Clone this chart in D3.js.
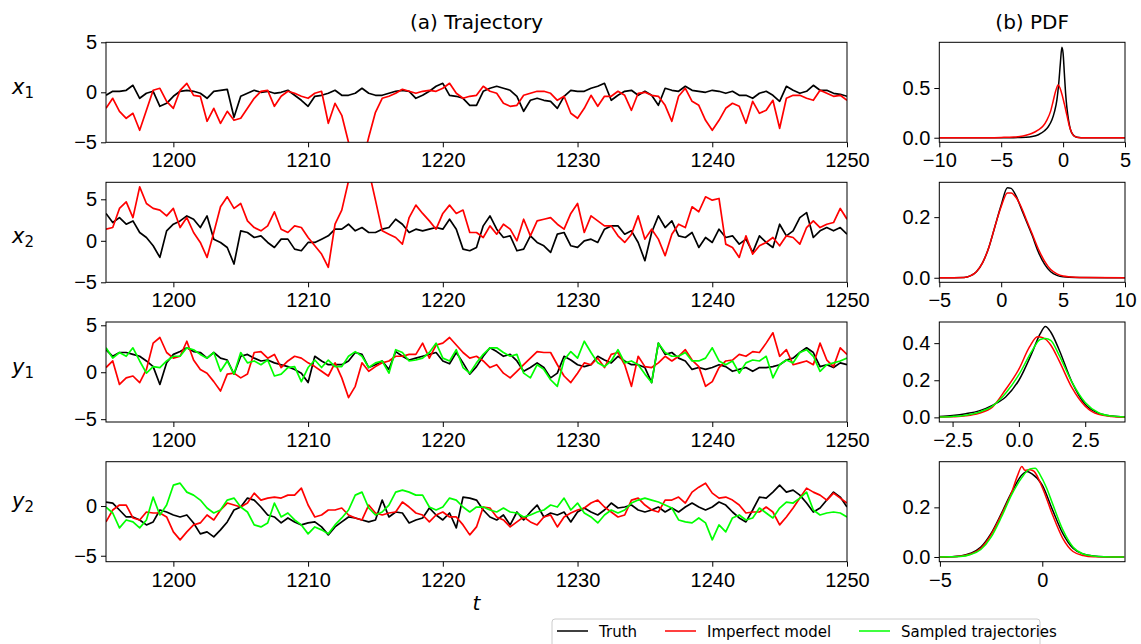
<!DOCTYPE html>
<html>
<head>
<meta charset="utf-8">
<script src="https://cdn.jsdelivr.net/npm/d3@7"></script>
<style>
  html, body { margin: 0; padding: 0; background: #fff; }
  svg { display: block; font-family: "DejaVu Sans", sans-serif; }
  .tick text { font-size: 20px; fill: #000; }
  .tick line { stroke: #000; }
  .domain { stroke: none; }
</style>
</head>
<body>
<svg id="chart" width="1141" height="644"></svg>
<script>
// ---------- data ----------
// trajectories are sampled every 0.5 time units from t = 1195 to t = 1250
const tStart = 1195, tEnd = 1250, tStep = 0.5;

const x1Truth = [-0.3,0.1,0.1,0.2,0.7,-0.6,-0.1,0.1,-1.4,-1.1,
  -0.4,0.1,0.2,0.1,-0.1,-0.6,0.1,0.2,0.3,-2.5,
  -0.4,-0.1,0.2,0,0.1,-0.1,0,0.2,-0.3,-0.8,
  -1.4,-0.4,-0.3,-0.1,0.2,-0.3,-0.3,-0.1,0.4,-0.1,
  -0.3,-0.3,-0.1,0.1,0.2,0.1,-0.6,-0.3,0.1,0.6,
  0.9,-0.3,-0.4,-0.6,-1.3,-1.3,0.1,0.4,0.6,0.4,
  0.2,-0.4,-1.9,-0.8,-0.6,-0.8,-0.9,-1.6,-0.4,0.2,
  0.1,0.1,0.4,0.6,0.9,-0.8,-0.3,0.1,0.2,-0.3,
  0.1,-0.3,-1.3,0.4,0.2,0.1,0.6,0.2,0.1,0,
  0.2,0.1,-0.1,0.1,-0.3,-0.3,-0.6,-0.1,0.1,-0.3,
  -0.9,0.6,0.2,-0.1,0.1,0.7,0.2,0.2,-0.1,-0.2,
  -0.4];
const x1Model = [-1.6,-0.6,-1.9,-2.6,-2.1,-3.8,-1.8,0.2,0.4,-0.9,
  -1.6,0.2,0.9,-0.3,-0.4,-2.9,-1.6,-3.1,-1.9,-2.8,
  -2.6,-1.6,-0.6,0.1,0.2,-1.4,-0.4,0.1,-0.1,-0.4,
  -0.6,-0.1,0.1,-3.1,-1.1,-2.3,-5.0,-7.0,-7.2,-4.5,
  -2.0,-0.6,-0.4,-0.1,0.3,0.1,-0.1,0.1,0.2,0.1,
  0.4,0.9,-0.1,-0.6,-0.4,-0.3,0.6,0.1,-0.1,-1.1,
  -1.4,-1.3,-0.3,-0.1,0.1,0.1,-0.1,-0.8,-0.4,-2.1,
  -2.6,-1.6,-0.3,-1.4,-0.4,-0.4,0.1,-0.3,-1.8,-0.1,
  0,-0.3,-0.4,-1.3,-2.9,-0.4,0.4,-0.9,-1.3,-2.8,
  -3.8,-2.8,-1.6,-1.1,-1.4,-3.1,-0.9,-2.1,-1.8,-0.8,
  -3.6,-0.6,-0.3,-0.3,-0.6,-0.8,0.2,-0.1,-0.4,-0.3,
  -0.8];

const x2Truth = [3.3,2.2,2.8,2.0,2.4,1.0,0.4,-0.6,-2.0,1.2,
  2.0,2.4,3.0,2.6,1.6,3.0,0.2,-0.2,-0.8,-2.8,
  1.2,1.0,0.4,0.6,-0.2,-0.8,0.2,0.2,-1.0,-1.2,
  -0.2,-0.2,0.2,0.6,1.4,1.4,2.0,1.2,1.6,1.0,
  1.0,1.4,1.6,2.6,2.0,1.0,1.4,1.2,1.4,1.6,
  1.4,2.6,1.4,-1.0,-1.2,-0.8,1.8,3.0,1.4,0.4,
  0.6,-1.2,-1.0,0.6,-0.2,-0.6,-1.4,0.8,1.0,-0.6,
  -0.8,0,0.2,-0.2,1.4,1.8,1.8,0.8,1.2,-0.2,
  -2.4,1.0,3.0,1.6,2.4,0.6,0.4,1.0,-0.8,0.4,
  -0.2,1.4,0.4,0.6,-0.4,0.2,-1.4,0.6,-0.2,-0.8,
  2.0,0.6,1.2,2.8,3.4,0.4,1.2,1.6,1.2,1.6,
  0.8];
const x2Model = [1.4,1.6,3.9,4.7,2.8,6.5,4.5,3.9,3.7,3.0,
  3.9,1.6,2.8,1.0,-0.2,-2.0,1.0,4.1,5.3,3.9,
  4.5,2.4,1.6,1.2,1.8,3.5,1.4,1.0,1.8,1.6,
  0.4,-0.6,-1.6,-3.2,2.0,3.7,7.2,9.0,9.5,8.5,
  4.9,1.2,0.8,0.4,-0.4,2.8,4.3,3.3,2.4,1.4,
  3.3,4.3,3.3,3.7,1.0,1.0,0.4,1.8,0.8,2.0,
  1.4,0,2.6,0.6,2.4,2.6,2.8,2.0,1.4,3.3,
  4.5,1.0,3.0,2.4,1.8,1.8,0.6,-0.2,0.8,3.0,
  0.2,1.4,0.2,-1.8,0.8,2.0,1.6,4.1,3.5,5.3,
  4.9,5.1,-0.4,-0.8,-2.0,0.6,-1.6,-0.6,-0.2,0.4,
  -0.6,0.6,0.4,-0.4,1.6,2.4,1.6,2.0,2.2,3.9,
  2.6];

const y1Truth = [2.4,1.7,2.1,2.1,1.9,1.7,1.2,0.6,-1.3,1.0,
  1.9,2.2,2.6,2.2,2.1,1.5,2.1,1.5,1.3,-0.2,
  1.7,1.9,1.5,1.2,1.3,1.0,0.8,0.6,0.3,-0.1,
  -1.1,1.7,1.2,0.8,0.8,0.8,1.2,2.1,1.9,0.5,
  0.8,1.2,0.3,2.2,1.7,1.3,1.5,1.7,1.9,2.1,
  1.2,0.9,2.1,1.0,-0.2,0.6,1.7,2.6,2.2,1.7,
  1.9,1.2,0.1,0.5,1.0,0.5,-0.6,-0.1,1.7,1.3,
  0.8,0.6,0.8,1.7,1.3,1.0,1.7,1.2,0.8,0.8,
  0.5,-1.1,3.1,1.9,2.1,1.5,1.2,0.3,0.5,0.3,
  0.5,0.8,0.6,0.1,0.3,0.5,0.1,0.5,0.5,0.6,
  0.8,1.3,1.5,2.1,2.6,2.1,0.6,0.8,0.5,1.0,
  0.8];
const y1Model = [0.5,1.2,-1.3,-0.6,-0.4,-1.1,0.3,3.1,3.7,2.1,
  1.5,1.7,3.3,1.3,0.3,-0.1,-1.0,-2.0,-0.2,-0.1,
  -0.6,-0.2,2.1,2.2,1.5,1.9,0.5,1.2,1.7,1.5,
  1.0,0.6,0.1,-0.4,1.0,-0.6,-2.7,-1.5,1.0,0.1,
  0.6,1.0,1.2,1.7,1.7,1.9,1.9,3.1,1.5,2.9,
  3.1,3.7,2.9,2.1,1.5,1.7,1.2,0.5,0.8,-0.1,
  -0.6,0.1,0.8,1.5,2.2,2.1,2.1,0.8,-0.4,-1.1,
  -0.1,1.0,0.8,1.5,0.5,1.9,2.1,0.8,-1.5,1.7,
  0.6,0.5,1.0,1.7,1.2,1.7,2.4,1.3,0.6,-1.5,
  -1.0,0.5,1.2,1.3,1.9,1.7,2.2,2.1,3.1,4.2,
  1.7,2.4,0.8,1.0,1.2,0.8,3.1,1.3,0.6,2.6,
  1.9];
const y1Sampled = [2.6,1.5,2.1,1.7,2.6,1.2,-0.1,0.6,0.5,1.2,
  1.7,1.7,2.6,2.4,1.9,1.5,2.1,0.1,1.2,-0.2,
  2.1,1.0,1.2,0.8,1.3,-0.4,-0.2,0.5,0.6,-1.0,
  0.5,1.3,0.5,1.3,0.6,0.6,1.7,2.2,1.7,0.5,
  1.0,1.2,-0.1,2.4,2.1,1.2,1.3,1.5,2.1,3.1,
  1.5,1.2,2.4,0.5,-0.1,1.0,1.9,2.6,2.6,2.1,
  1.7,1.9,-0.1,-0.6,0.8,0.3,-0.8,-1.5,1.3,2.2,
  1.5,3.3,2.1,1.0,0.6,1.2,2.4,1.0,1.2,0.8,
  -0.2,-1.1,3.1,2.1,1.7,1.7,2.1,1.2,1.2,1.5,
  2.6,1.2,0.8,1.2,-0.1,1.0,1.3,1.2,1.7,-0.6,
  0.8,1.3,1.0,2.1,2.4,1.7,0.1,0.8,1.0,1.2,
  1.5];

const y2Truth = [0.4,0.3,-0.4,-1.1,-1.1,-1.4,-1.9,-1.6,-0.4,-0.6,
  -0.9,-1.1,-0.9,-1.7,-2.8,-2.6,-3.1,-2.4,-1.6,-0.4,
  -0.1,0.8,0.6,-0.1,-0.9,-1.1,-1.7,-1.2,-1.6,-1.9,
  -1.7,-1.6,-2.1,-2.9,-2.1,-1.6,-1.1,-1.2,-1.4,-1.6,
  -1.4,0.6,-1.1,-0.6,-0.7,-1.7,-1.4,-1.2,-0.2,-0.9,
  -1.4,-0.7,-2.2,0.9,0.8,0.6,-0.4,-1.1,-1.4,-0.9,
  -1.9,-0.6,-1.4,-0.6,0.1,-1.1,-0.7,-0.9,-0.6,-1.6,
  -0.6,-0.2,-0.6,-0.9,-0.4,0.3,-0.2,-0.1,0.1,-0.4,
  -0.6,-0.4,-0.1,-0.6,-0.2,-0.6,-0.1,0.3,-0.1,-0.4,
  -0.1,0.4,0.1,-0.6,-1.2,-1.6,-0.4,0.9,0.8,1.4,
  2.1,1.4,1.6,1.1,0.3,-0.6,-0.2,0.6,1.4,0.9,
  -0.1];
const y2Model = [-1.6,-0.4,0.1,0.1,-1.2,-1.4,-0.6,-0.7,-0.7,-1.1,
  -2.6,-3.4,-2.6,-1.9,-1.7,-0.9,-1.4,-0.4,0.3,0.1,
  -0.1,0.3,1.3,0.6,0.8,0.9,0.8,1.1,1.1,1.8,
  0.1,-1.1,-0.9,-0.4,-0.4,-0.2,-0.9,-1.2,-1.4,0.1,
  -0.7,-0.9,-0.7,-0.6,0.4,-0.1,-0.7,-0.9,-1.6,-0.9,
  -0.6,-1.1,-1.1,-1.9,-2.9,-2.1,-0.1,-0.2,-1.1,-1.4,
  -2.1,-1.6,-1.1,-1.6,-1.9,-1.1,-0.9,-2.1,-1.1,-0.7,
  -0.4,-0.2,0.3,0.6,-0.1,-0.6,-1.1,-0.9,0.6,0.8,
  0.1,-0.4,-0.6,0.6,0.6,0.9,0.3,1.4,1.9,2.3,
  1.3,0.8,0.9,0.6,0.1,-0.7,-0.6,-0.6,-0.1,-0.6,
  -1.9,-1.1,-0.2,0.8,1.8,1.4,1.1,0.6,1.3,0.8,
  0.3];
const y2Sampled = [-0.1,-0.7,-2.2,-1.4,-1.6,-2.2,-1.4,0.9,-0.9,0.1,
  2.1,2.3,1.4,1.1,0.6,-0.2,-0.7,-0.4,0.6,0.8,
  -0.1,-0.6,-1.9,-2.1,-1.7,0.3,-1.1,-0.7,-1.4,-1.9,
  -2.8,-2.1,-2.4,-2.8,-1.9,-1.2,-0.4,1.1,1.4,-0.2,
  -0.9,-0.6,0.1,1.4,1.6,1.4,1.1,1.1,-0.1,-0.4,
  -0.1,0.8,0.6,-0.1,-0.6,-0.1,-0.1,-0.4,-0.6,-0.2,
  -0.6,-0.7,-1.1,-0.9,-0.6,-0.4,0.1,-0.1,0.8,-0.4,
  0.3,-0.7,-1.1,-1.7,-0.9,-0.4,-0.7,-0.4,0.3,0.6,
  0.8,0.6,0.4,0.1,-0.2,-1.4,-1.6,-1.7,-1.2,-1.7,
  -3.4,-1.9,-2.6,-1.2,-0.9,-1.4,-1.2,-0.2,-0.7,-1.2,
  -0.2,0.4,0.3,0.8,1.4,-0.4,-0.9,-0.7,-0.6,-0.7,
  -1.1];

// probability density curves, [value, density]
const pdfX1Truth = [[-10,0],[-4,0.001],[-3,0.005],[-2.5,0.012],[-2,0.03],[-1.5,0.07],[-1.2,0.11],[-0.9,0.18],[-0.7,0.26],[-0.5,0.38],[-0.35,0.55],[-0.22,0.75],[-0.1,0.91],[0,0.85],[0.1,0.65],[0.2,0.45],[0.3,0.31],[0.45,0.17],[0.6,0.08],[0.8,0.03],[1.0,0.01],[1.3,0.002],[1.6,0],[5,0]];
const pdfX1Model = [[-10,0],[-6,0.001],[-5,0.003],[-4,0.007],[-3.5,0.013],[-3,0.025],[-2.5,0.045],[-2,0.08],[-1.6,0.12],[-1.3,0.18],[-1,0.27],[-0.8,0.37],[-0.6,0.47],[-0.4,0.53],[-0.25,0.5],[-0.1,0.44],[0.1,0.34],[0.3,0.23],[0.5,0.12],[0.7,0.05],[0.9,0.015],[1.2,0.003],[1.6,0],[5,0]];
const pdfX2Truth = [[-5,0],[-3,0.001],[-2.5,0.006],[-2,0.02],[-1.5,0.05],[-1,0.1],[-0.5,0.17],[0,0.24],[0.5,0.297],[0.8,0.295],[1.2,0.27],[1.6,0.23],[2,0.19],[2.5,0.14],[3,0.085],[3.5,0.045],[4,0.02],[4.5,0.008],[5,0.003],[6,0.001],[10,0]];
const pdfX2Model = [[-5,0],[-3,0.001],[-2.5,0.006],[-2,0.02],[-1.5,0.05],[-1,0.1],[-0.5,0.17],[0,0.235],[0.5,0.28],[0.8,0.28],[1.2,0.265],[1.6,0.235],[2,0.195],[2.5,0.145],[3,0.095],[3.5,0.055],[4,0.027],[4.5,0.013],[5,0.006],[6,0.002],[7,0.001],[10,0]];
const pdfY1Truth = [[-3,0.004],[-2.5,0.01],[-2,0.02],[-1.5,0.035],[-1,0.065],[-0.5,0.11],[0,0.2],[0.5,0.35],[0.8,0.45],[1,0.49],[1.2,0.46],[1.5,0.37],[2,0.19],[2.5,0.07],[3,0.022],[3.5,0.007],[4,0.002]];
const pdfY1Model = [[-3,0.001],[-2.5,0.003],[-2,0.008],[-1.5,0.022],[-1,0.055],[-0.5,0.15],[0,0.26],[0.4,0.38],[0.7,0.435],[0.9,0.43],[1.2,0.39],[1.5,0.31],[2,0.16],[2.5,0.06],[3,0.016],[3.5,0.005],[4,0.001]];
const pdfY1Sampled = [[-3,0.002],[-2.5,0.005],[-2,0.012],[-1.5,0.028],[-1,0.06],[-0.5,0.13],[0,0.23],[0.5,0.36],[0.8,0.42],[1,0.425],[1.2,0.415],[1.5,0.34],[2,0.19],[2.5,0.08],[3,0.025],[3.5,0.007],[4,0.002]];
const pdfY2Truth = [[-5,0],[-4.5,0.001],[-4,0.004],[-3.5,0.015],[-3,0.04],[-2.5,0.095],[-2,0.175],[-1.5,0.26],[-1,0.33],[-0.75,0.345],[-0.5,0.335],[0,0.29],[0.5,0.19],[1,0.095],[1.5,0.035],[2,0.012],[2.5,0.004],[3,0.001],[4,0]];
const pdfY2Model = [[-5,0],[-4.5,0.001],[-4,0.003],[-3.5,0.012],[-3,0.035],[-2.5,0.09],[-2,0.17],[-1.5,0.26],[-1.2,0.33],[-1.0,0.365],[-0.85,0.35],[-0.6,0.352],[-0.4,0.345],[0,0.28],[0.5,0.17],[1,0.075],[1.5,0.022],[2,0.006],[2.5,0.001],[4,0]];
const pdfY2Sampled = [[-5,0],[-4.5,0.001],[-4,0.002],[-3.5,0.01],[-3,0.03],[-2.5,0.08],[-2,0.16],[-1.5,0.25],[-1,0.32],[-0.6,0.355],[-0.35,0.358],[-0.1,0.33],[0.2,0.28],[0.5,0.215],[1,0.11],[1.5,0.04],[2,0.012],[2.5,0.004],[3,0.001],[4,0]];

const timeTicks = [1200, 1210, 1220, 1230, 1240, 1250];
const seriesNames = ["Truth", "Imperfect model", "Sampled trajectories"];
const seriesColors = ["#000000", "#ff0000", "#00ff00"];

// ---------- layout ----------
const svg = d3.select("#chart");
const leftX = [106, 847];
const rightX = [939.3, 1125];
const rowTop = [42.3, 182.3, 322, 461.7];
const rowH = 100;

const times = d3.range(tStart, tEnd + tStep / 2, tStep);
const xTime = d3.scaleLinear().domain([tStart, tEnd]).range(leftX);

const rows = [
  { label: "x", sub: "1", yDomain: [-5, 5], yTicks: [5, 0, -5], series: [x1Truth, x1Model],
    pdf: [pdfX1Truth, pdfX1Model], pdfX: [-10, 5], pdfY: [-0.046, 0.96], pdfXTicks: [-10, -5, 0, 5], pdfYTicks: [0, 0.5], xFmt: d3.format("d") },
  { label: "x", sub: "2", yDomain: [-5, 7.05], yTicks: [5, 0, -5], series: [x2Truth, x2Model],
    pdf: [pdfX2Truth, pdfX2Model], pdfX: [-5, 10], pdfY: [-0.015, 0.315], pdfXTicks: [-5, 0, 5, 10], pdfYTicks: [0, 0.2], xFmt: d3.format("d") },
  { label: "y", sub: "1", yDomain: [-5.3, 5.35], yTicks: [5, 0, -5], series: [y1Truth, y1Model, y1Sampled],
    pdf: [pdfY1Truth, pdfY1Model, pdfY1Sampled], pdfX: [-3, 4], pdfY: [-0.025, 0.514], pdfXTicks: [-2.5, 0, 2.5], pdfYTicks: [0, 0.2, 0.4], xFmt: d3.format(".1f") },
  { label: "y", sub: "2", yDomain: [-5.6, 4.46], yTicks: [0, -5], series: [y2Truth, y2Model, y2Sampled],
    pdf: [pdfY2Truth, pdfY2Model, pdfY2Sampled], pdfX: [-5.03, 4.04], pdfY: [-0.019, 0.384], pdfXTicks: [-5, 0], pdfYTicks: [0, 0.2], xFmt: d3.format("d") }
];

function styleAxis(g) {
  g.selectAll(".tick line").attr("stroke", "#000").attr("stroke-width", 1);
  g.selectAll(".tick text").attr("fill", "#000").style("font-size", "20px");
}

function frame(g, x0, x1, y0, y1) {
  g.append("rect").attr("x", x0).attr("y", y0).attr("width", x1 - x0).attr("height", y1 - y0)
    .attr("fill", "none").attr("stroke", "#000").attr("stroke-width", 1);
}

rows.forEach((row, i) => {
  const top = rowTop[i], bottom = top + rowH;

  // --- trajectory panel ---
  const y = d3.scaleLinear().domain(row.yDomain).range([bottom, top]);
  const g = svg.append("g");
  const clipId = "clip-traj-" + i;
  svg.append("clipPath").attr("id", clipId).append("rect")
    .attr("x", leftX[0]).attr("y", top).attr("width", leftX[1] - leftX[0]).attr("height", rowH);

  const line = d3.line().x((d, k) => xTime(times[k])).y(d => y(d));
  const lines = g.append("g").attr("clip-path", `url(#${clipId})`);
  row.series.forEach((s, k) => {
    lines.append("path").datum(s).attr("d", line)
      .attr("fill", "none").attr("stroke", seriesColors[k]).attr("stroke-width", 1.7)
      .attr("stroke-linejoin", "round");
  });

  frame(g, leftX[0], leftX[1], top, bottom);
  g.append("g").attr("transform", `translate(0,${bottom})`)
    .call(d3.axisBottom(xTime).tickValues(timeTicks).tickFormat(d3.format("d")).tickSize(5).tickPadding(6))
    .call(styleAxis);
  g.append("g").attr("transform", `translate(${leftX[0]},0)`)
    .call(d3.axisLeft(y).tickValues(row.yTicks).tickFormat(d3.format("d")).tickSize(5).tickPadding(4))
    .call(styleAxis);

  // row label, aligned with the zero level
  const lab = svg.append("text").attr("x", 12).attr("y", y(0) + 2)
    .style("font-size", "21px").attr("fill", "#000");
  lab.append("tspan").text(row.label).style("font-style", "italic");
  lab.append("tspan").text(row.sub).attr("dy", 4).style("font-size", "15px");

  // --- density panel ---
  const px = d3.scaleLinear().domain(row.pdfX).range(rightX);
  const py = d3.scaleLinear().domain(row.pdfY).range([bottom, top]);
  const gp = svg.append("g");
  const pline = d3.line().x(d => px(d[0])).y(d => py(d[1])).curve(d3.curveMonotoneX);
  row.pdf.forEach((c, k) => {
    gp.append("path").datum(c).attr("d", pline)
      .attr("fill", "none").attr("stroke", seriesColors[k]).attr("stroke-width", 1.5);
  });
  frame(gp, rightX[0], rightX[1], top, bottom);
  gp.append("g").attr("transform", `translate(0,${bottom})`)
    .call(d3.axisBottom(px).tickValues(row.pdfXTicks).tickFormat(row.xFmt).tickSize(5).tickPadding(6))
    .call(styleAxis);
  gp.append("g").attr("transform", `translate(${rightX[0]},0)`)
    .call(d3.axisLeft(py).tickValues(row.pdfYTicks).tickFormat(d3.format(".1f")).tickSize(5).tickPadding(4))
    .call(styleAxis);
});

// ---------- titles ----------
svg.append("text").attr("x", (leftX[0] + leftX[1]) / 2).attr("y", 29).attr("text-anchor", "middle")
  .style("font-size", "20px").text("(a) Trajectory");
svg.append("text").attr("x", (rightX[0] + rightX[1]) / 2).attr("y", 29).attr("text-anchor", "middle")
  .style("font-size", "20px").text("(b) PDF");
svg.append("text").attr("x", (leftX[0] + leftX[1]) / 2).attr("y", 610).attr("text-anchor", "middle")
  .style("font-size", "20px").style("font-style", "italic").text("t");

// ---------- legend ----------
const legend = svg.append("g");
legend.append("rect").attr("x", 552).attr("y", 619).attr("width", 488).attr("height", 40)
  .attr("rx", 3).attr("fill", "#fff").attr("stroke", "#cccccc").attr("stroke-width", 1);
const legendX = [557, 665, 859];
seriesNames.forEach((name, k) => {
  legend.append("line").attr("x1", legendX[k]).attr("x2", legendX[k] + 31)
    .attr("y1", 631).attr("y2", 631).attr("stroke", seriesColors[k]).attr("stroke-width", 1.5);
  legend.append("text").attr("x", legendX[k] + 42).attr("y", 636.5)
    .style("font-size", "15px").attr("fill", "#000").text(name);
});
</script>
</body>
</html>
